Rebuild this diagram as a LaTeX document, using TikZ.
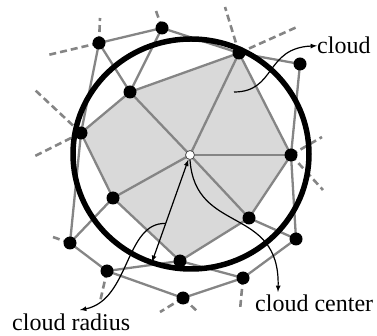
\documentclass[tikz,border=0pt]{standalone}
\usepackage{fontspec}
\setmainfont{Liberation Serif}
\usetikzlibrary{calc, positioning}

\begin{document}
\begin{tikzpicture}[>=latex, x=1pt, y=-1pt,
    vtx/.style={circle, fill=black, inner sep=0pt, minimum size=13pt},
    link/.style={draw=black!48, line width=2.3pt},
    ray/.style={draw=black!48, line width=2.6pt, dash pattern=on 7pt off 4pt},
    note/.style={->, black, line width=1.2pt},
    lbl/.style={font=\rmfamily\fontsize{24}{28}\selectfont, inner sep=0pt, anchor=base west}]
    \useasboundingbox (0,0) rectangle (377,336);

    % Vị trí các điểm
    \coordinate (A) at (99,43);
    \coordinate (B) at (162,28);
    \coordinate (C) at (130,92);
    \coordinate (D) at (81,133);
    \coordinate (E) at (239,53);
    \coordinate (F) at (300,64);
    \coordinate (G) at (291,155);
    \coordinate (H) at (113,198);
    \coordinate (I) at (70,243);
    \coordinate (J) at (107,271);
    \coordinate (K) at (180,261);
    \coordinate (L) at (183,298);
    \coordinate (M) at (249,218);
    \coordinate (N) at (296,239);
    \coordinate (O) at (243,278);
    \coordinate (P) at (190,155);

    % Miền tô xám
    \fill[black!15] (D) -- (C) -- (E) -- (G) -- (M) -- (K) -- (H) -- cycle;

    % Các cạnh
    \foreach \u/\v in {A/B, A/C, A/D, B/C, B/E, C/D, C/E, C/P, D/H, D/I,
        E/F, E/G, E/P, F/G, G/P, G/M, G/N, H/P, H/I, H/K, I/J, J/K,
        J/L, K/M, K/O, L/O, M/P, M/N, N/O}
        \draw[link] (\u) -- (\v);

    % Các tia nét đứt
    \draw[ray] (A) -- (100,18);
    \draw[ray] (A) -- (48,55);
    \draw[ray] (B) -- (155,8);
    \draw[ray] (D) -- (35,90);
    \draw[ray] (D) -- (35,156);
    \draw[ray] (E) -- (225,7);
    \draw[ray] (E) -- (297,27);
    \draw[ray] (G) -- (322,137);
    \draw[ray] (G) -- (323,190);
    \draw[ray] (I) -- (50,236);
    \draw[ray] (J) -- (100,302);
    \draw[ray] (L) -- (160,312);
    \draw[ray] (L) -- (198,312);
    \draw[ray] (O) -- (240,310);

    % Đường tròn
    \draw[line width=5.5pt] (191,154) ellipse [x radius=118pt, y radius=115pt];

    % Các đỉnh
    \foreach \p in {A,B,C,D,E,F,G,H,I,J,K,L,M,N,O}
        \node[vtx] (\p-dot) at (\p) {};
    \node[circle, fill=white, draw=black!70, line width=0.8pt, inner sep=0pt,
        minimum size=9pt] (ctr) at (P) {};

    % Nhãn
    \node[lbl] (cloud) at (317,54) {cloud};
    \node[lbl] (center) at (255,311) {cloud center};
    \node[lbl] (radius) at (12,330) {cloud radius};

    \coordinate (rim) at (152,262);
    \coordinate (inside) at (234,92);
    \draw[<->, line width=1.2pt] (ctr) -- (rim);
    \coordinate (mid) at ($(ctr)!0.64!(rim)$);

    \draw[note] (inside) .. controls (276,92) and (265,48) .. (cloud.west);
    \draw[note] (mid) .. controls (125,222) and (130,300) .. (80,310);
    \draw[note] (ctr.south) .. controls (195,235) and (280,205) .. (278,292);
\end{tikzpicture}
\end{document}
